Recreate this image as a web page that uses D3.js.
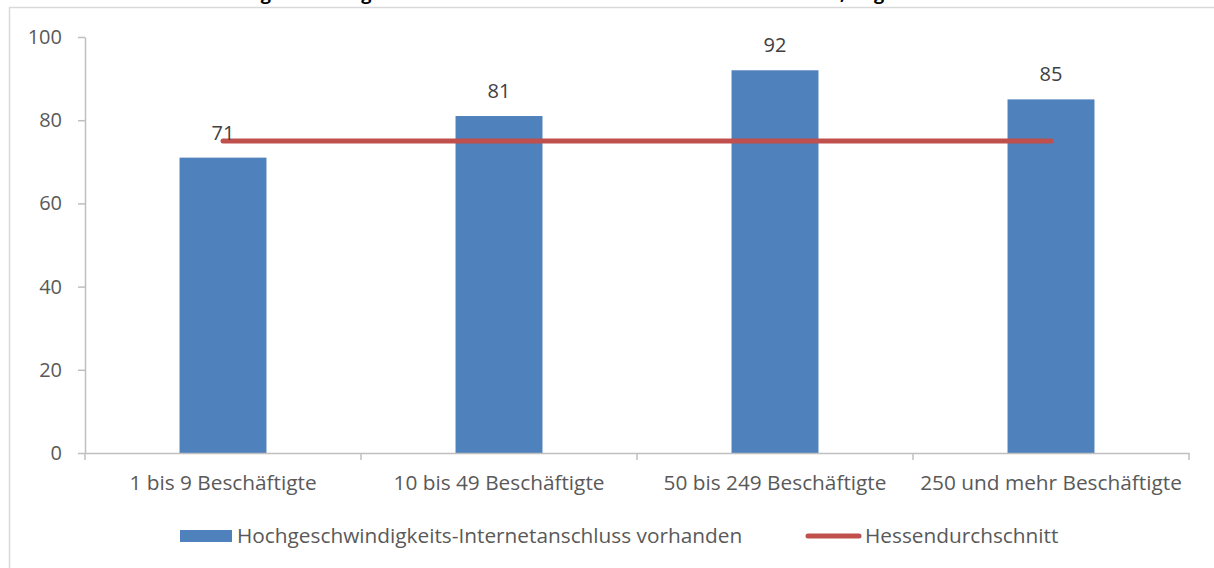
<!DOCTYPE html>
<html>
<head>
<meta charset="utf-8">
<script src="https://cdn.jsdelivr.net/npm/d3@7"></script>
<style>
  body { margin: 0; background: #fff; }
  svg { display: block; font-family: "Open Sans", Lato, sans-serif; }
</style>
</head>
<body>
<svg id="chart"></svg>
<script>
//======
// Data
//======
const categories = ["1 bis 9 Beschäftigte", "10 bis 49 Beschäftigte", "50 bis 249 Beschäftigte", "250 und mehr Beschäftigte"];
const barValues = [71, 81, 92, 85];
const avgValues = [75, 75, 75, 75];
const yTicks = [0, 20, 40, 60, 80, 100];
const seriesNames = ["Hochgeschwindigkeits-Internetanschluss vorhanden", "Hessendurchschnitt"];
const title = "Hochgeschwindigkeits-Internetanschluss in hessischen Unternehmen, Angaben in Prozent";

//=======
// Chart
//=======
var width = 1214,
  height = 568,
  plotLeft = 85,
  plotRight = 1189,
  plotTop = 37,
  plotBottom = 453;

var svg = d3.select("#chart")
  .attr("width", width)
  .attr("height", height);

// title sits mostly above the visible area
svg.append("text")
  .attr("x", 620)
  .attr("y", 0)
  .attr("text-anchor", "middle")
  .style("font-weight", "bold")
  .style("font-size", "18px")
  .style("fill", "#000")
  .text(title);

// chart frame
svg.append("rect")
  .attr("x", 9.5)
  .attr("y", 7.5)
  .attr("width", 1300)
  .attr("height", 700)
  .attr("fill", "none")
  .attr("stroke", "#d9d9d9")
  .attr("stroke-width", 1.5);

var x = d3.scaleBand()
  .domain(categories)
  .range([plotLeft, plotRight])
  .padding(0);

var y = d3.scaleLinear()
  .domain([0, 100])
  .range([plotBottom, plotTop]);

var barW = x.bandwidth() * 0.315;

// bars
svg.selectAll(".bar")
  .data(barValues)
  .enter()
  .append("rect")
  .attr("class", "bar")
  .attr("x", (d, i) => x(categories[i]) + (x.bandwidth() - barW) / 2)
  .attr("width", barW)
  .attr("y", d => y(d))
  .attr("height", d => y(0) - y(d))
  .attr("fill", "#4f81bd");

// y axis
var yAxis = svg.append("g")
  .attr("transform", "translate(" + plotLeft + ",0)")
  .call(d3.axisLeft(y).tickValues(yTicks).tickSize(7).tickSizeOuter(0).tickPadding(16));

yAxis.selectAll("text")
  .style("font-size", "20px")
  .style("fill", "#595959")
  .style("font-family", "'Open Sans', sans-serif");

// x axis
var xAxis = svg.append("g")
  .attr("transform", "translate(0," + plotBottom + ")")
  .call(d3.axisBottom(x).tickSize(0).tickPadding(22));

xAxis.selectAll("text")
  .style("font-size", "20.8px")
  .style("fill", "#595959")
  .style("font-family", "'Open Sans', sans-serif");

// boundary ticks between categories
var bounds = categories.map(c => x(c)).concat([plotRight]);
xAxis.selectAll(".bound")
  .data(bounds)
  .enter()
  .append("line")
  .attr("class", "bound")
  .attr("x1", d => d)
  .attr("x2", d => d)
  .attr("y1", 0)
  .attr("y2", 7);

svg.selectAll(".domain, .tick line, .bound")
  .attr("stroke", "#bfbfbf")
  .attr("stroke-width", 1.5);

// average line
var line = d3.line()
  .x((d, i) => x(categories[i]) + x.bandwidth() / 2)
  .y(d => y(d));

svg.append("path")
  .datum(avgValues)
  .attr("d", line)
  .attr("fill", "none")
  .attr("stroke", "#c0504d")
  .attr("stroke-width", 5)
  .attr("stroke-linecap", "round");

// data labels
svg.selectAll(".lbl")
  .data(barValues)
  .enter()
  .append("text")
  .attr("class", "lbl")
  .attr("x", (d, i) => x(categories[i]) + x.bandwidth() / 2)
  .attr("y", d => y(d) - 18)
  .attr("text-anchor", "middle")
  .style("font-size", "20px")
  .style("fill", "#404040")
  .text(d => d);

// legend
var legend = svg.append("g").style("font-size", "20.8px").style("fill", "#595959");

legend.append("rect")
  .attr("x", 180)
  .attr("y", 530)
  .attr("width", 52)
  .attr("height", 12)
  .attr("fill", "#4f81bd");

legend.append("text")
  .attr("x", 237)
  .attr("y", 543)
  .text(seriesNames[0]);

legend.append("line")
  .attr("x1", 808)
  .attr("x2", 859)
  .attr("y1", 536)
  .attr("y2", 536)
  .attr("stroke", "#c0504d")
  .attr("stroke-width", 5)
  .attr("stroke-linecap", "round");

legend.append("text")
  .attr("x", 865)
  .attr("y", 543)
  .text(seriesNames[1]);
</script>
</body>
</html>
